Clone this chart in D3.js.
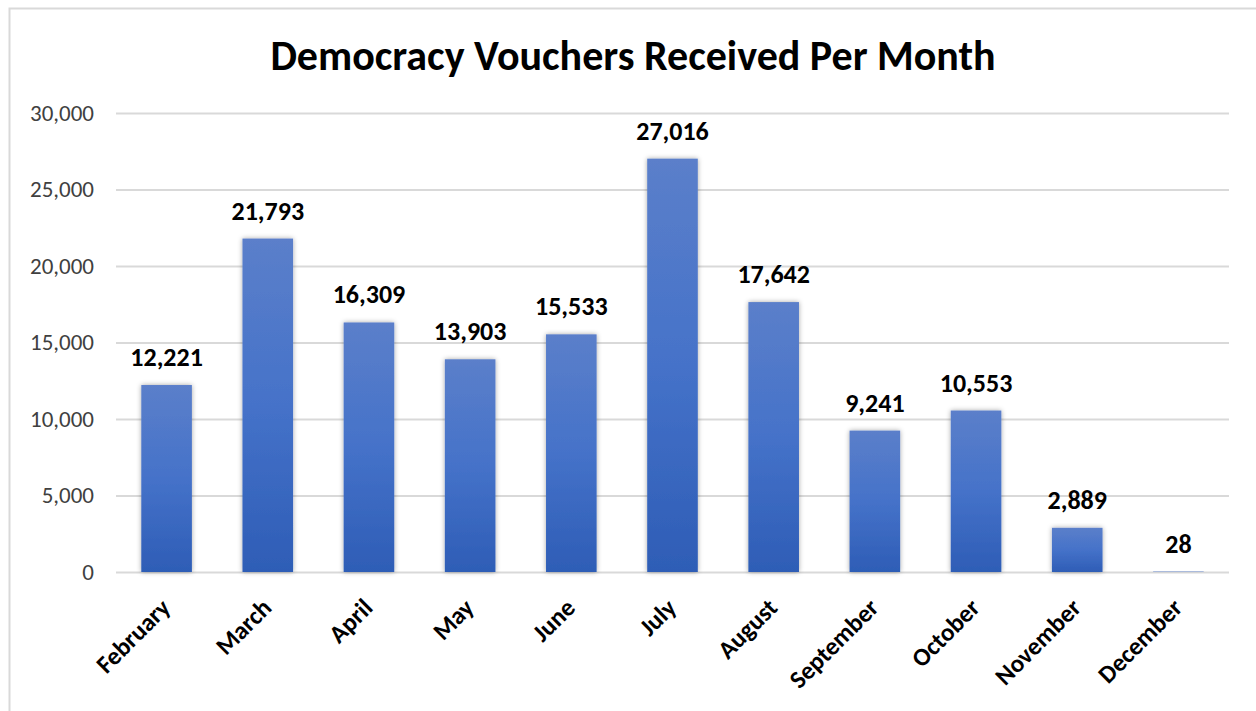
<!DOCTYPE html>
<html>
<head>
<meta charset="utf-8">
<script src="https://cdn.jsdelivr.net/npm/d3@7"></script>
<style>
  body { margin: 0; background: #fff; }
  text { font-family: Carlito, Calibri, Lato, "Open Sans", sans-serif; }
</style>
</head>
<body>
<script>
// DATA
const months = ["February", "March", "April", "May", "June", "July", "August",
                "September", "October", "November", "December"];
const vouchers = [12221, 21793, 16309, 13903, 15533, 27016, 17642, 9241, 10553, 2889, 28];
const yTicks = [0, 5000, 10000, 15000, 20000, 25000, 30000];
const chartTitle = "Democracy Vouchers Received Per Month";

// SIZES
const svgwidth = 1256;
const svgheight = 711;
const margin = { top: 113, right: 27, bottom: 139, left: 116 };
const graphwidth = svgwidth - margin.left - margin.right;
const graphheight = svgheight - margin.top - margin.bottom;

const svg = d3.select("body").append("svg")
    .attr("width", svgwidth)
    .attr("height", svgheight);

// outer chart border (runs off right and bottom)
svg.append("rect")
    .attr("x", 9.5).attr("y", 8.5)
    .attr("width", svgwidth + 20).attr("height", svgheight + 20)
    .attr("fill", "none")
    .attr("stroke", "#d9d9d9")
    .attr("stroke-width", 2);

// GRADIENT + SHADOW
const defs = svg.append("defs");
const grad = defs.append("linearGradient").attr("id", "barGrad")
    .attr("x1", 0).attr("y1", 0).attr("x2", 0).attr("y2", 1);
grad.append("stop").attr("offset", "0%").attr("stop-color", "#5b7fca");
grad.append("stop").attr("offset", "50%").attr("stop-color", "#4572c9");
grad.append("stop").attr("offset", "100%").attr("stop-color", "#2e5db6");

const shadow = defs.append("filter").attr("id", "shadow")
    .attr("x", "-30%").attr("y", "-10%").attr("width", "160%").attr("height", "120%");
shadow.append("feDropShadow")
    .attr("dx", 0).attr("dy", 0).attr("stdDeviation", 2.5)
    .attr("flood-color", "#000").attr("flood-opacity", 0.35);

const graph = svg.append("g")
    .attr("transform", `translate(${margin.left}, ${margin.top})`);

// SCALES
const X = d3.scaleBand().domain(months).range([0, graphwidth])
    .paddingInner(0.5).paddingOuter(0.25);
const Y = d3.scaleLinear().domain([0, 30000]).range([graphheight, 0]);

// GRIDLINES + Y AXIS
const yaxis = graph.append("g")
    .call(d3.axisLeft(Y).tickValues(yTicks).tickSize(-graphwidth)
        .tickFormat(d3.format(",")).tickPadding(22));
yaxis.select(".domain").remove();
yaxis.selectAll(".tick line").attr("stroke", "#d9d9d9").attr("stroke-width", 2);
yaxis.selectAll(".tick text")
    .attr("fill", "#404040")
    .style("font-size", "23px");

// BARS
graph.selectAll(".bar").data(vouchers).enter()
    .append("rect").classed("bar", true)
    .attr("x", (d, i) => X(months[i]))
    .attr("y", d => Y(d))
    .attr("width", X.bandwidth())
    .attr("height", d => graphheight - Y(d))
    .attr("fill", "url(#barGrad)")
    .attr("filter", "url(#shadow)");

// VALUE LABELS
graph.selectAll(".vlabel").data(vouchers).enter()
    .append("text").classed("vlabel", true)
    .attr("x", (d, i) => X(months[i]) + X.bandwidth() / 2)
    .attr("y", d => Y(d) - 19)
    .attr("text-anchor", "middle")
    .attr("fill", "#000")
    .style("font-size", "26px")
    .style("font-weight", "bold")
    .text(d => d3.format(",")(d));

// X AXIS LABELS
graph.selectAll(".xlabel").data(months).enter()
    .append("text").classed("xlabel", true)
    .attr("transform", d => `translate(${X(d) + X.bandwidth() / 2 - 8}, ${graphheight + 24}) rotate(-45)`)
    .attr("text-anchor", "end")
    .attr("dy", "0.75em")
    .attr("fill", "#000")
    .style("font-size", "25px")
    .style("font-weight", "bold")
    .text(d => d);

// TITLE
svg.append("text")
    .attr("x", 633).attr("y", 70)
    .attr("text-anchor", "middle")
    .attr("fill", "#000")
    .style("font-size", "42px")
    .style("font-weight", "bold")
    .text(chartTitle);
</script>
</body>
</html>
